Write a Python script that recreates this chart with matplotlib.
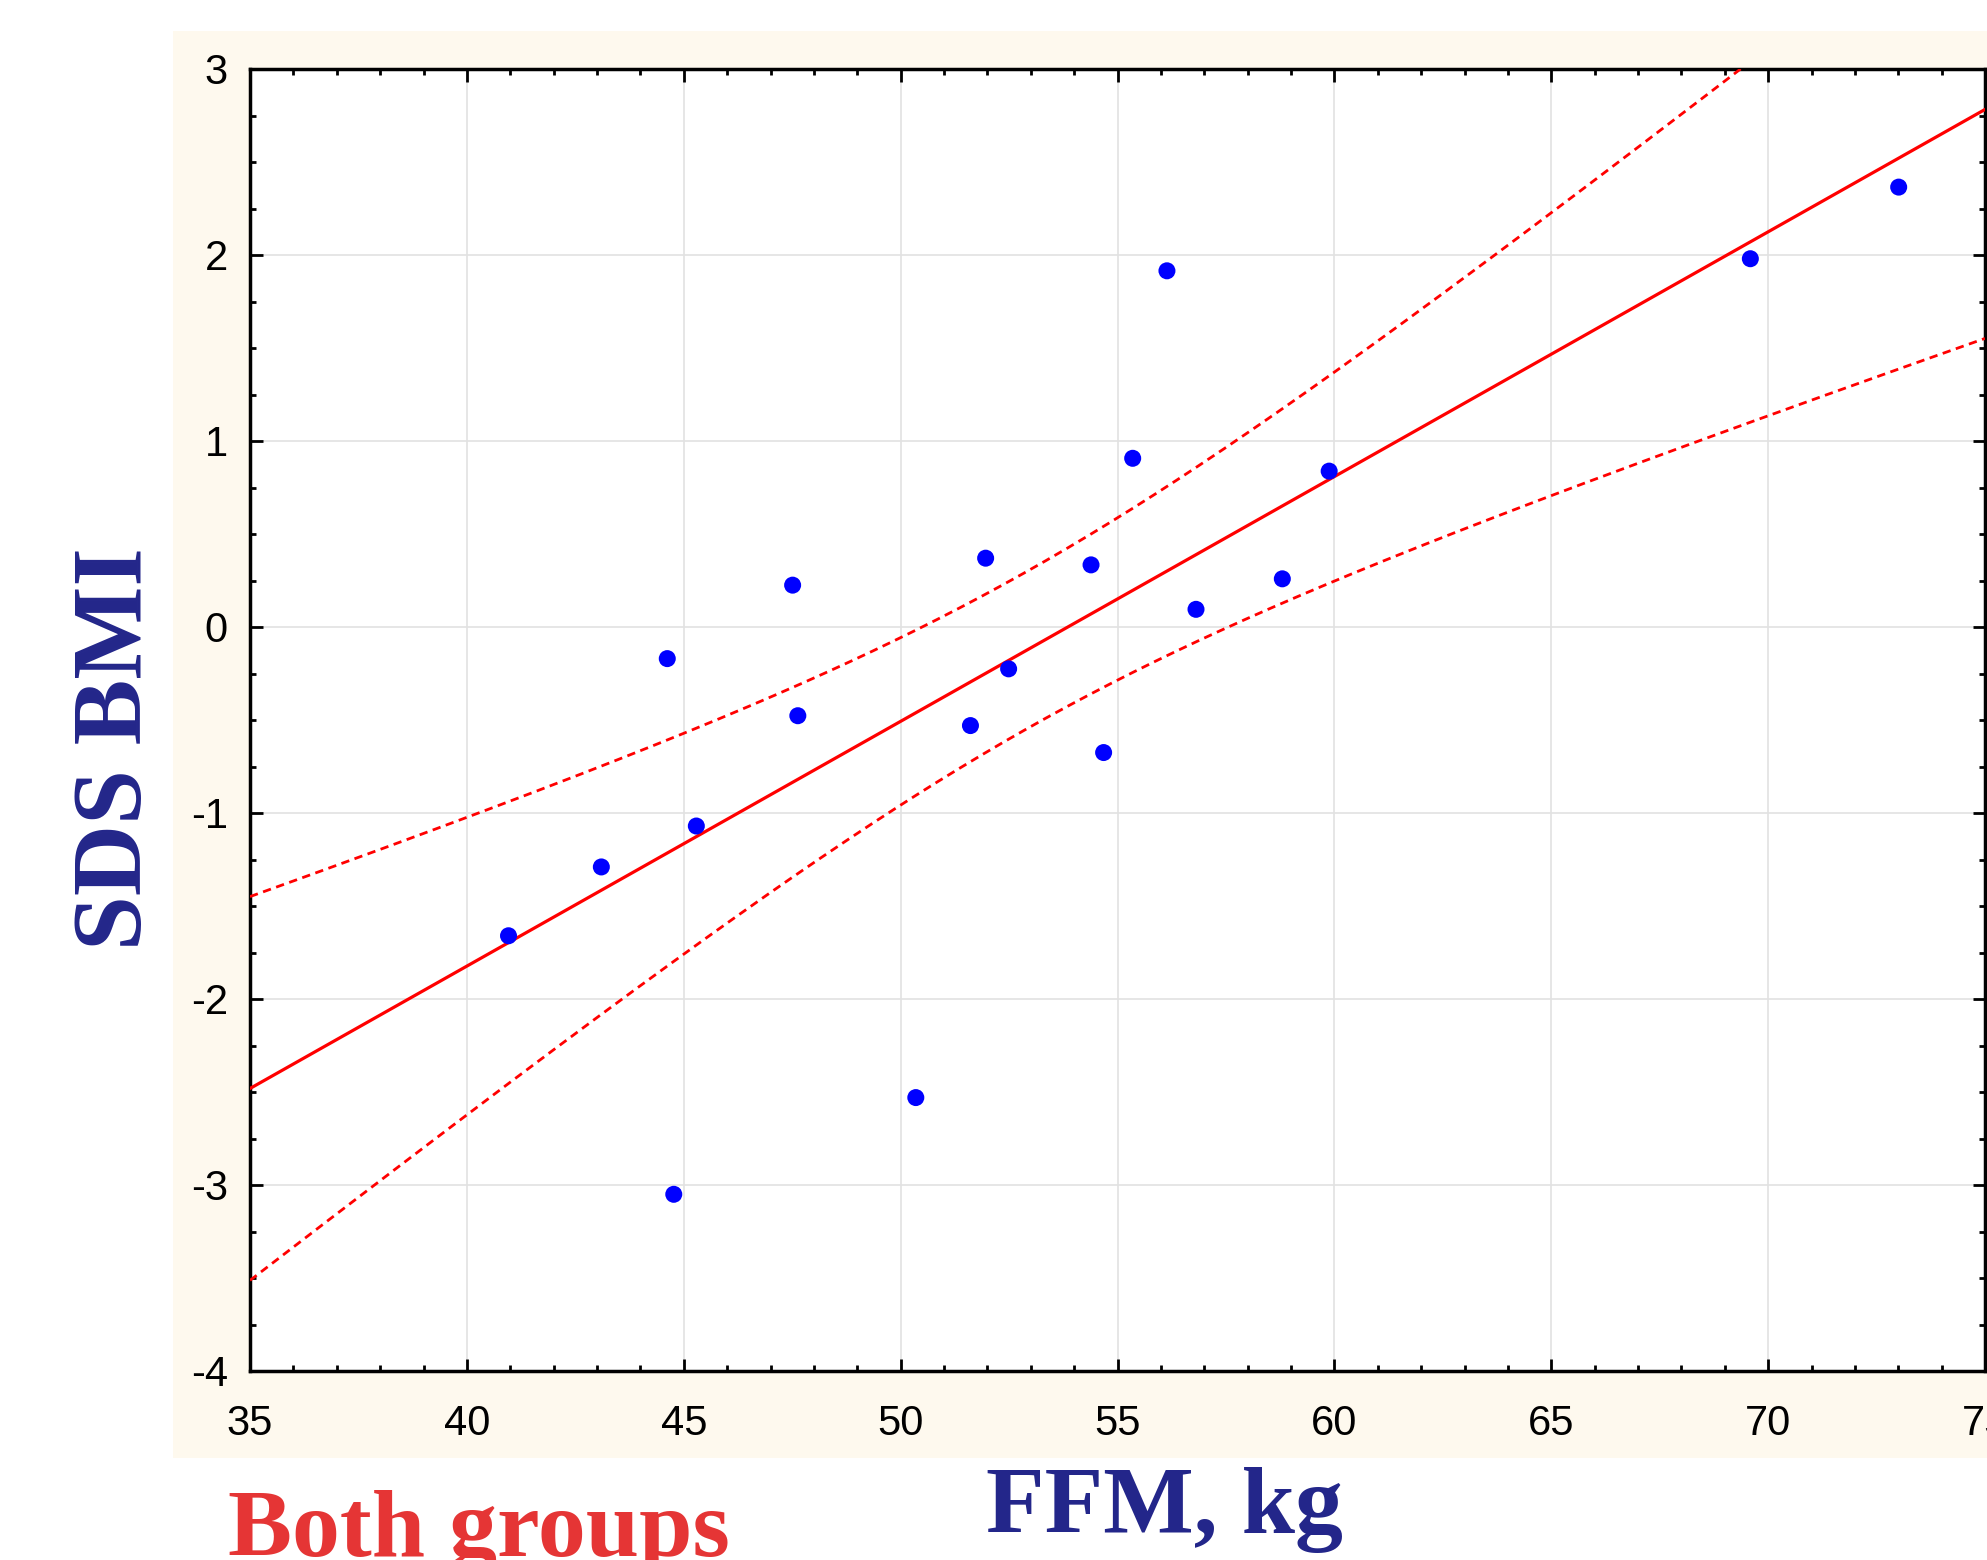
import numpy as np
import matplotlib
matplotlib.use("Agg")
import matplotlib.pyplot as plt
from matplotlib.patches import Rectangle
from matplotlib.ticker import MultipleLocator

plt.rcParams['axes.unicode_minus'] = False  # trattino semplice come nell'originale

# Dati (FFM in kg, SDS BMI)
ffm = [40.96, 43.10, 44.62, 44.77, 45.29, 47.51, 47.63, 50.35, 51.61, 51.96,
       52.49, 54.39, 54.68, 55.35, 56.14, 56.81, 58.80, 59.88, 69.59, 73.01]
sds_bmi = [-1.66, -1.29, -0.17, -3.05, -1.07, 0.225, -0.477, -2.53, -0.53, 0.37,
           -0.225, 0.334, -0.675, 0.907, 1.915, 0.095, 0.259, 0.838, 1.98, 2.365]

x_ticks = [35, 40, 45, 50, 55, 60, 65, 70, 75]
y_ticks = [-4, -3, -2, -1, 0, 1, 2, 3]
t_crit = 2.101  # t di Student, 18 gradi di liberta, 95%

x = np.array(ffm)
y = np.array(sds_bmi)
n = len(x)

# Regressione lineare e intervallo di confidenza al 95%
slope, intercept = np.polyfit(x, y, 1)
resid = y - (slope * x + intercept)
s = np.sqrt(np.sum(resid ** 2) / (n - 2))
sxx = np.sum((x - x.mean()) ** 2)
xx = np.linspace(35, 75, 400)
yy = slope * xx + intercept
half = t_crit * s * np.sqrt(1 / n + (xx - x.mean()) ** 2 / sxx)

fig = plt.figure(figsize=(19.87, 15.60), dpi=100)

# Pannello color crema dietro al grafico
fig.patches.append(Rectangle((173 / 1987, 1 - 1458 / 1560), 1 - 173 / 1987, (1458 - 31) / 1560,
                             transform=fig.transFigure, facecolor='#fef9ee', edgecolor='none', zorder=-10))

ax = fig.add_axes([250 / 1987, 1 - 1371 / 1560, (1985 - 250) / 1987, (1371 - 69) / 1560])
ax.set_zorder(1)
ax.set_facecolor('white')
ax.set_xlim(35, 75)
ax.set_ylim(-4, 3)

ax.plot(xx, yy, color='#ff0000', lw=2.3, zorder=3)
ax.plot(xx, yy + half, color='#ff0000', lw=2.0, ls=(0, (3, 2)), zorder=3)
ax.plot(xx, yy - half, color='#ff0000', lw=2.0, ls=(0, (3, 2)), zorder=3)
ax.scatter(x, y, s=150, color='#0000ff', edgecolors='none', zorder=4)

ax.set_xticks(x_ticks)
ax.set_yticks(y_ticks)
ax.xaxis.set_minor_locator(MultipleLocator(1))
ax.yaxis.set_minor_locator(MultipleLocator(0.25))
ax.tick_params(which='both', direction='in', top=True, right=True, width=2, color='black')
ax.tick_params(which='major', length=9)
ax.tick_params(which='minor', length=4)
ax.tick_params(axis='x', which='major', labelsize=30, pad=24)
ax.tick_params(axis='y', which='major', labelsize=30, pad=16)
for lab in ax.get_xticklabels() + ax.get_yticklabels():
    lab.set_fontfamily('Liberation Sans')
    lab.set_clip_on(False)

ax.grid(True, which='major', color='#e2e2e2', lw=1.2)
ax.set_axisbelow(True)
for sp in ax.spines.values():
    sp.set_linewidth(2.5)
    sp.set_color('black')

# Etichette
fig.text(986 / 1987, 1 - 1533 / 1560, 'FFM, kg', color='#23268a', fontsize=69,
         fontweight='bold', family='Liberation Serif', ha='left', va='baseline')
fig.text(228 / 1987, 1 - 1556 / 1560, 'Both groups', color='#e53535', fontsize=69,
         fontweight='bold', family='Liberation Serif', ha='left', va='baseline')
fig.text(117 / 1987, 1 - 749 / 1560, 'SDS BMI', color='#23268a', fontsize=71,
         fontweight='bold', family='Liberation Serif', rotation=90, ha='center', va='center')

fig.savefig('out.png', dpi=100)
